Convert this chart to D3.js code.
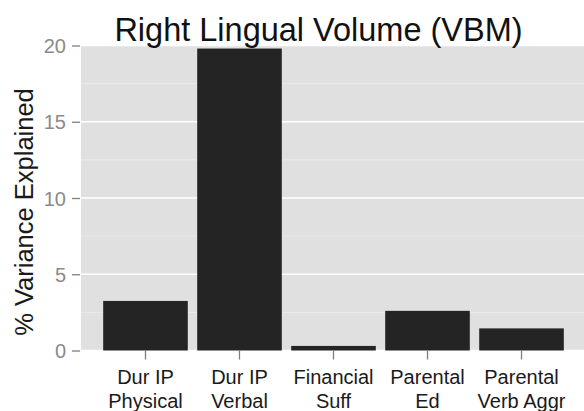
<!DOCTYPE html>
<html>
<head>
<meta charset="utf-8">
<script src="https://cdn.jsdelivr.net/npm/d3@7"></script>
<style>
  body { margin: 0; background: #fff; }
  text { font-family: "Liberation Sans", Arial, sans-serif; }
</style>
</head>
<body>
<div id="chart"></div>
<script>
const categories = ["Dur IP\nPhysical", "Dur IP\nVerbal", "Financial\nSuff", "Parental\nEd", "Parental\nVerb Aggr"];
const values = [3.25, 19.8, 0.3, 2.6, 1.45];
const yTicks = [0, 5, 10, 15, 20];
const yMinor = [2.5, 7.5, 12.5, 17.5];

const width = 584, height = 411;
const margin = { top: 45.5, right: -2, bottom: 60.5, left: 81 };

const svg = d3.select("#chart").append("svg")
  .attr("width", width)
  .attr("height", height);

const x = d3.scaleBand()
  .domain(categories)
  .range([margin.left, width - margin.right])
  .paddingInner(0.1)
  .paddingOuter(0.236);

const y = d3.scaleLinear()
  .domain([0, 20])
  .range([height - margin.bottom, margin.top]);

// panel
svg.append("rect")
  .attr("x", margin.left)
  .attr("y", margin.top)
  .attr("width", width - margin.right - margin.left)
  .attr("height", y(0) - y(20))
  .attr("fill", "#e0e0e0");

svg.append("g").selectAll("line")
  .data(yMinor)
  .join("line")
  .attr("x1", margin.left).attr("x2", width - margin.right)
  .attr("y1", d => y(d)).attr("y2", d => y(d))
  .attr("stroke", "#eeeeee")
  .attr("stroke-width", 0.8);

svg.append("g").selectAll("line")
  .data(yTicks)
  .join("line")
  .attr("x1", margin.left).attr("x2", width - margin.right)
  .attr("y1", d => y(d)).attr("y2", d => y(d))
  .attr("stroke", "#fff")
  .attr("stroke-width", 1.6);

// bars
svg.append("g").selectAll("rect")
  .data(values)
  .join("rect")
  .attr("x", (d, i) => x(categories[i]))
  .attr("y", d => y(d))
  .attr("width", x.bandwidth())
  .attr("height", d => y(0) - y(d))
  .attr("fill", "#242424");

// y axis
const yAxis = svg.append("g")
  .attr("transform", `translate(${margin.left - 1},0)`)
  .call(d3.axisLeft(y).tickValues(yTicks).tickSize(8).tickPadding(6));
yAxis.select(".domain").remove();
yAxis.selectAll(".tick line").attr("stroke", "#7f7f7f").attr("stroke-width", 1.3);
yAxis.selectAll(".tick text")
  .attr("fill", "#8a8a8a")
  .style("font-size", "20px")
  .attr("dy", "0.36em");

// x axis
const xAxis = svg.append("g")
  .attr("transform", `translate(0,${y(0)})`)
  .call(d3.axisBottom(x).tickSize(9).tickFormat(""));
xAxis.select(".domain").remove();
xAxis.selectAll(".tick line").attr("stroke", "#7f7f7f").attr("stroke-width", 1.3);

xAxis.selectAll(".tick").append("text")
  .attr("fill", "#1a1a1a")
  .attr("text-anchor", "middle")
  .style("font-size", "20px")
  .selectAll("tspan")
  .data(d => d.split("\n"))
  .join("tspan")
  .attr("x", 0)
  .attr("y", (d, i) => 33 + i * 24)
  .text(d => d);

// title
svg.append("text")
  .attr("x", 318.5)
  .attr("y", 41)
  .attr("text-anchor", "middle")
  .attr("fill", "#111")
  .style("font-size", "32.5px")
  .text("Right Lingual Volume (VBM)");

// y title
svg.append("text")
  .attr("transform", `translate(33,212) rotate(-90)`)
  .attr("text-anchor", "middle")
  .attr("fill", "#1a1a1a")
  .style("font-size", "25.5px")
  .text("% Variance Explained");
</script>
</body>
</html>
